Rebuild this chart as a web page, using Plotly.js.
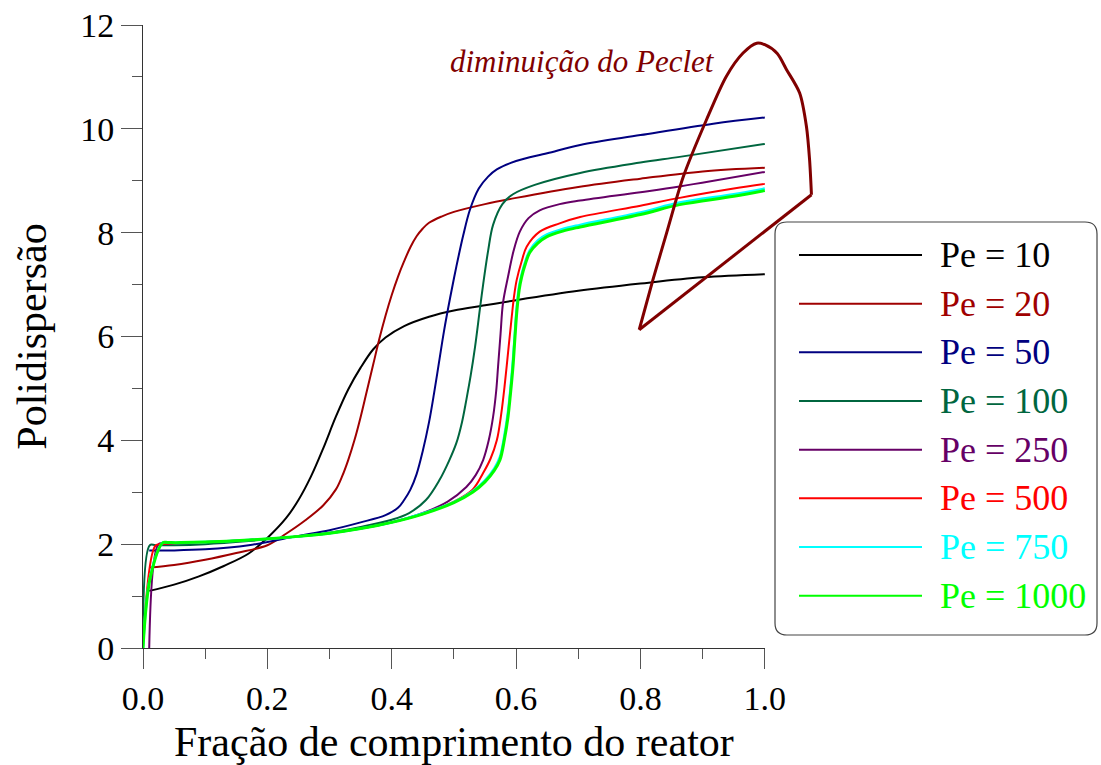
<!DOCTYPE html>
<html><head><meta charset="utf-8">
<script src="https://cdn.plot.ly/plotly-3.0.1.min.js"></script>
<style>html,body{margin:0;padding:0;background:#fff}#chart{width:1101px;height:765px}</style>
</head><body><div id="chart"></div>
<script>
// ---------- data ----------
const seriesNames = ['Pe = 10', 'Pe = 20', 'Pe = 50', 'Pe = 100', 'Pe = 250', 'Pe = 500', 'Pe = 750', 'Pe = 1000'];
const seriesColors = ['#000000', '#A00000', '#000080', '#00663F', '#660066', '#FF0000', '#00FFFF', '#00FF00'];
const seriesWidths = [2, 2, 2, 2, 2, 2, 2.5, 3];

const x10 = [0.01, 0.05, 0.09, 0.13, 0.17, 0.2, 0.23, 0.25, 0.27, 0.29, 0.31, 0.33, 0.35, 0.37, 0.39, 0.42, 0.46, 0.5, 0.55, 0.6, 0.7, 0.8, 0.9, 1.0];
const y10 = [1.1, 1.22, 1.38, 1.58, 1.82, 2.12, 2.5, 2.85, 3.3, 3.85, 4.45, 4.98, 5.4, 5.75, 5.98, 6.2, 6.38, 6.5, 6.6, 6.7, 6.88, 7.02, 7.14, 7.2];

const x20 = [0.01, 0.05, 0.1, 0.15, 0.2, 0.23, 0.26, 0.29, 0.31, 0.32, 0.33, 0.34, 0.35, 0.36, 0.37, 0.38, 0.39, 0.4, 0.41, 0.42, 0.43, 0.44, 0.45, 0.46, 0.48, 0.5, 0.55, 0.6, 0.7, 0.8, 0.9, 1.0];
const y20 = [1.55, 1.6, 1.7, 1.83, 1.98, 2.2, 2.45, 2.75, 3.05, 3.3, 3.62, 4.0, 4.45, 4.95, 5.45, 5.95, 6.4, 6.8, 7.15, 7.45, 7.72, 7.93, 8.08, 8.19, 8.31, 8.4, 8.55, 8.67, 8.88, 9.04, 9.18, 9.25];

const x50 = [0.01, 0.05, 0.1, 0.17, 0.25, 0.3, 0.35, 0.39, 0.41, 0.42, 0.43, 0.44, 0.45, 0.46, 0.468, 0.476, 0.484, 0.494, 0.504, 0.515, 0.526, 0.54, 0.555, 0.569, 0.6, 0.65, 0.703, 0.8, 0.917, 1.0];
const y50 = [1.88, 1.88, 1.9, 1.98, 2.16, 2.27, 2.42, 2.56, 2.7, 2.85, 3.05, 3.35, 3.8, 4.35, 4.9, 5.5, 6.1, 6.75, 7.35, 7.95, 8.45, 8.85, 9.08, 9.22, 9.38, 9.53, 9.69, 9.88, 10.1, 10.22];

const x100 = [0.0, 0.011, 0.02, 0.05, 0.1, 0.17, 0.25, 0.3, 0.35, 0.4, 0.428, 0.455, 0.477, 0.492, 0.504, 0.513, 0.52, 0.527, 0.534, 0.542, 0.547, 0.555, 0.563, 0.578, 0.595, 0.63, 0.703, 0.8, 0.863, 1.0];
const y100 = [0, 1.98, 1.98, 1.98, 2.0, 2.06, 2.15, 2.22, 2.33, 2.47, 2.6, 2.85, 3.24, 3.6, 3.95, 4.35, 4.78, 5.25, 5.8, 6.55, 7.0, 7.65, 8.15, 8.55, 8.74, 8.92, 9.15, 9.35, 9.46, 9.71];

const x250 = [0.01, 0.025, 0.035, 0.05, 0.1, 0.17, 0.25, 0.3, 0.35, 0.4, 0.45, 0.49, 0.52, 0.535, 0.547, 0.556, 0.563, 0.568, 0.571, 0.575, 0.579, 0.587, 0.596, 0.606, 0.62, 0.638, 0.67, 0.703, 0.8, 0.863, 1.0];
const y250 = [0, 2.0, 2.01, 2.02, 2.04, 2.08, 2.15, 2.21, 2.3, 2.42, 2.6, 2.82, 3.1, 3.33, 3.62, 4.0, 4.45, 4.95, 5.42, 6.05, 6.65, 7.15, 7.65, 8.02, 8.28, 8.43, 8.55, 8.62, 8.78, 8.89, 9.17];

const x500 = [0.0, 0.02, 0.03, 0.05, 0.1, 0.17, 0.25, 0.3, 0.35, 0.4, 0.45, 0.5, 0.53, 0.547, 0.559, 0.569, 0.576, 0.582, 0.588, 0.593, 0.597, 0.601, 0.609, 0.617, 0.638, 0.67, 0.703, 0.8, 0.863, 0.95, 1.0];
const y500 = [0, 1.97, 2.0, 2.02, 2.04, 2.08, 2.15, 2.21, 2.3, 2.42, 2.58, 2.82, 3.05, 3.37, 3.65, 4.0, 4.5, 5.1, 5.8, 6.38, 6.8, 7.09, 7.45, 7.73, 8.02, 8.18, 8.3, 8.52, 8.67, 8.85, 8.94];

const x750 = [0.0, 0.012, 0.032, 0.04, 0.06, 0.1, 0.17, 0.25, 0.3, 0.35, 0.4, 0.45, 0.5, 0.53, 0.55, 0.565, 0.574, 0.581, 0.587, 0.591, 0.595, 0.598, 0.601, 0.605, 0.609, 0.615, 0.622, 0.635, 0.649, 0.675, 0.703, 0.8, 0.863, 0.95, 1.0];
const y750 = [0, 1.4, 2.03, 2.03, 2.03, 2.04, 2.08, 2.15, 2.21, 2.3, 2.42, 2.59, 2.81, 3.02, 3.23, 3.46, 3.68, 4.08, 4.55, 5.0, 5.55, 6.05, 6.55, 6.98, 7.2, 7.45, 7.66, 7.85, 7.96, 8.07, 8.15, 8.39, 8.58, 8.74, 8.85];

const x1000 = [0.0, 0.012, 0.032, 0.04, 0.06, 0.1, 0.17, 0.25, 0.3, 0.35, 0.4, 0.45, 0.5, 0.53, 0.55, 0.565, 0.574, 0.581, 0.587, 0.591, 0.595, 0.598, 0.601, 0.605, 0.609, 0.615, 0.622, 0.635, 0.649, 0.675, 0.703, 0.8, 0.863, 0.95, 1.0];
const y1000 = [0, 1.37, 2.03, 2.03, 2.03, 2.04, 2.08, 2.15, 2.21, 2.3, 2.42, 2.58, 2.8, 3.0, 3.2, 3.42, 3.62, 4.0, 4.45, 4.9, 5.42, 5.95, 6.45, 6.9, 7.15, 7.4, 7.62, 7.8, 7.92, 8.03, 8.11, 8.35, 8.54, 8.7, 8.81];

const seriesX = [x10, x20, x50, x100, x250, x500, x750, x1000];
const seriesY = [y10, y20, y50, y100, y250, y500, y750, y1000];

// "diminuição do Peclet" loop arrow (data units)
const arrowX = [0.798, 0.82, 0.842, 0.869, 0.906, 0.938, 0.965, 0.987, 1.0, 1.02, 1.035, 1.056, 1.067, 1.072, 1.075];
const arrowY = [6.13, 7.09, 7.99, 9.08, 10.17, 11.01, 11.46, 11.65, 11.62, 11.45, 11.14, 10.69, 10.04, 9.4, 8.73];
const arrowLabel = 'diminuição do Peclet';
const arrowLabelPos = [0.707, 11.29];
const arrowColor = '#800000';

const xTitle = 'Fração de comprimento do reator';
const yTitle = 'Polidispersão';

// ---------- layout helpers ----------
const FONT = 'Liberation Serif, Times New Roman, serif';
const ML = 143, MT = 25, PW = 684, PH = 623, W = 1101, H = 765;
const XMAX = 1.1;
const px2paperX = p => (p - ML) / PW;
const px2paperY = p => (MT + PH - p) / PH;

const traces = seriesNames.map((n, i) => ({
  x: seriesX[i], y: seriesY[i], type: 'scatter', mode: 'lines', name: n,
  line: {color: seriesColors[i], width: seriesWidths[i], shape: 'spline', smoothing: 1},
  hoverinfo: 'skip', showlegend: false
}));
traces.push({x: arrowX, y: arrowY, type: 'scatter', mode: 'lines', line: {color: arrowColor, width: 3, shape: 'spline', smoothing: 0.8}, hoverinfo: 'skip', showlegend: false});
traces.push({x: [arrowX[arrowX.length - 1], arrowX[0]], y: [arrowY[arrowY.length - 1], arrowY[0]], type: 'scatter', mode: 'lines', line: {color: arrowColor, width: 3}, hoverinfo: 'skip', showlegend: false});
traces.push({x: [], y: [], xaxis: 'x2', yaxis: 'y', type: 'scatter', mode: 'lines', hoverinfo: 'skip', showlegend: false});

// legend (custom, rounded box)
const lgL = 775, lgR = 1097, lgT = 222, lgB = 635, rad = 12;
const bx0 = px2paperX(lgL), bx1 = px2paperX(lgR), byT = px2paperY(lgT), byB = px2paperY(lgB);
const rx = rad / PW, ry = rad / PH;
const shapes = [{
  type: 'path', xref: 'paper', yref: 'paper', layer: 'above',
  path: `M ${bx0 + rx},${byT} L ${bx1 - rx},${byT} Q ${bx1},${byT} ${bx1},${byT - ry} L ${bx1},${byB + ry} Q ${bx1},${byB} ${bx1 - rx},${byB} L ${bx0 + rx},${byB} Q ${bx0},${byB} ${bx0},${byB + ry} L ${bx0},${byT - ry} Q ${bx0},${byT} ${bx0 + rx},${byT} Z`,
  fillcolor: '#ffffff', line: {color: '#444444', width: 1.2}
}];
const annotations = [];
const rowTop = 255, rowGap = 48.67;
seriesNames.forEach((n, i) => {
  const yy = px2paperY(rowTop + i * rowGap);
  shapes.push({type: 'line', xref: 'paper', yref: 'paper', layer: 'above',
    x0: px2paperX(799), x1: px2paperX(922), y0: yy, y1: yy,
    line: {color: seriesColors[i], width: 2}});
  annotations.push({xref: 'paper', yref: 'paper', x: px2paperX(938), y: yy, xanchor: 'left', yanchor: 'middle',
    text: n, showarrow: false, font: {family: FONT, size: 36, color: seriesColors[i]}});
});
annotations.push({xref: 'x', yref: 'y', x: arrowLabelPos[0], y: arrowLabelPos[1], xanchor: 'center', yanchor: 'middle',
  text: '<i>' + arrowLabel + '</i>', showarrow: false, font: {family: FONT, size: 31, color: arrowColor}});

const axisCommon = {
  showline: true, linecolor: '#333333', linewidth: 1, ticks: 'outside', tickwidth: 1, tickcolor: '#555555',
  showgrid: false, zeroline: false, tickfont: {family: FONT, size: 34, color: '#000'}
};

const layout = {
  width: W, height: H, margin: {l: ML, r: W - ML - PW, t: MT, b: H - MT - PH, pad: 0},
  paper_bgcolor: '#ffffff', plot_bgcolor: 'rgba(0,0,0,0)', showlegend: false,
  xaxis: {domain: [0, 1], range: [0, XMAX], visible: false, fixedrange: true},
  xaxis2: Object.assign({}, axisCommon, {
    domain: [0, 1 / XMAX], range: [0, 1], anchor: 'y', tick0: 0, dtick: 0.2, tickformat: '.1f', ticklen: 20,
    minor: {ticks: 'outside', ticklen: 10, dtick: 0.1, tick0: 0, tickcolor: '#555555', tickwidth: 1, showgrid: false},
    title: {text: xTitle, font: {family: FONT, size: 42, color: '#000'}, standoff: 10}
  }),
  yaxis: Object.assign({}, axisCommon, {
    range: [0, 12], anchor: 'x', tick0: 0, dtick: 2, ticklen: 21,
    minor: {ticks: 'outside', ticklen: 10, dtick: 1, tick0: 0, tickcolor: '#555555', tickwidth: 1, showgrid: false},
    title: {text: yTitle, font: {family: FONT, size: 42, color: '#000'}, standoff: 20}
  }),
  shapes: shapes, annotations: annotations
};

Plotly.newPlot('chart', traces, layout, {displayModeBar: false, staticPlot: true});
</script></body></html>
